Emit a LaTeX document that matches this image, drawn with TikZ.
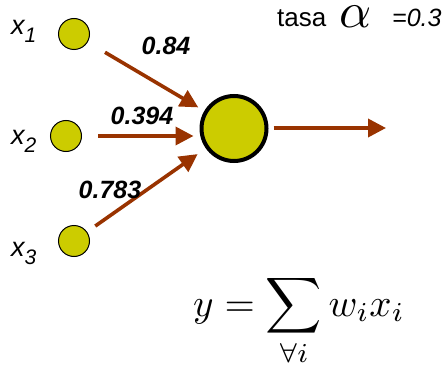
\documentclass[tikz,border=0pt]{standalone}
\usepackage{graphicx}
\usepackage{fontspec}
\setmainfont{Liberation Sans}
\usetikzlibrary{arrows.meta}
\definecolor{nodeyellow}{HTML}{CCCC00}
\definecolor{arrowbrown}{HTML}{993300}
\tikzset{
  inputnode/.style={circle, draw=black, line width=1pt, fill=nodeyellow, minimum size=31pt, inner sep=0pt},
  neuron/.style={circle, draw=black, line width=4pt, fill=nodeyellow, minimum size=65pt, inner sep=0pt},
  conn/.style={draw=arrowbrown, line width=3.6pt, -{Triangle[length=18pt,width=18pt]}},
  weight/.style={font=\fontsize{25}{25}\selectfont\bfseries\itshape, inner sep=0pt},
  xlabel/.style={font=\fontsize{27}{27}\selectfont\itshape, anchor=base west, inner sep=0pt},
}
\newcommand{\xsub}[1]{x\raisebox{-8pt}{\fontsize{21}{21}\selectfont #1}}
\begin{document}
\begin{tikzpicture}[x=1pt,y=-1pt]
\useasboundingbox (0,0) rectangle (446,366);
% inputs
\node[inputnode] (x1) at (74,34) {};
\node[inputnode] (x2) at (66,136) {};
\node[inputnode] (x3) at (74,241) {};
\node[neuron] (n) at (234,128.5) {};
\coordinate (out) at (386,128);
% labels
\node[xlabel] (lx1) at (11,35) {\xsub{1}};
\node[xlabel] (lx2) at (11,144) {\xsub{2}};
\node[xlabel] (lx3) at (11,256) {\xsub{3}};
% connectors
\draw[conn, shorten <=20pt, shorten >=7pt] (x1) -- (n);
\draw[conn, shorten <=16pt, shorten >=6pt] (x2.east) -- (n.west |- x2.east);
\draw[conn, shorten <=10pt, shorten >=10pt] (x3) -- (n);
\draw[conn, shorten <=5pt] (n.east |- out) -- (out);
% weights
\node[weight] (w1) at (166,46) {0.84};
\node[weight] (w2) at (142,116) {0.394};
\node[weight] (w3) at (110,190) {0.783};
% rate
\node[anchor=base west, inner sep=0pt, font=\fontsize{26}{26}\selectfont] (tasa) at (277,27) {tasa};
\node[anchor=base west, inner sep=0pt] (alpha) at (339,28) {\scalebox{5}{$\alpha$}};
\node[anchor=base west, inner sep=0pt, font=\fontsize{25}{25}\selectfont\itshape] (rate) at (392,27) {=0.3};
% formula
\node[anchor=base, inner sep=0pt] (formula) at (299,316) {\scalebox{3.9}{$\displaystyle y=\sum_{\forall i} w_i x_i$}};
\end{tikzpicture}
\end{document}
